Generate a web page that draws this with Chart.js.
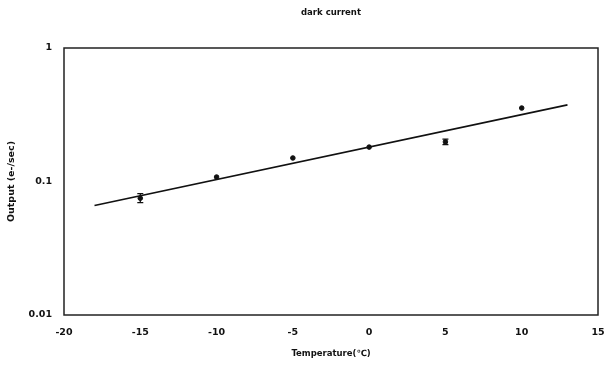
<!DOCTYPE html>
<html>
<head>
<meta charset="utf-8">
<script src="https://cdn.jsdelivr.net/npm/chart.js@4"></script>
<style>
  html, body { margin: 0; padding: 0; background: #fff; }
  #wrap { width: 612px; height: 367px; }
</style>
</head>
<body>
<div id="wrap"><canvas id="chart"></canvas></div>
<script>
// measured temperatures and dark current output
const temps = [-15, -10, -5, 0, 5, 10];
const output = [0.075, 0.108, 0.15, 0.181, 0.198, 0.355];
// error bars (only two points show visible bars)
const errLow = [0.0695, 0.108, 0.15, 0.181, 0.189, 0.355];
const errHigh = [0.081, 0.108, 0.15, 0.181, 0.208, 0.355];
// trend line endpoints
const trendX = [-18, 13];
const trendY = [0.066, 0.375];
const yTicks = [0.01, 0.1, 1];
const chartTitle = 'dark current';

const tickFont = { family: 'DejaVu Sans', size: 9.5, weight: '600' };
const labelFont = { family: 'DejaVu Sans', size: 8.5, weight: '600' };

// frame round the plot area, error bars and the title
const extras = {
  id: 'extras',
  afterDatasetsDraw(chart) {
    const ctx = chart.ctx;
    const xs = chart.scales.x, ys = chart.scales.y;
    ctx.save();
    ctx.strokeStyle = '#111';
    ctx.lineWidth = 1.3;
    temps.forEach((t, i) => {
      if (errLow[i] === errHigh[i]) return;
      const x = xs.getPixelForValue(t);
      const y1 = ys.getPixelForValue(errLow[i]);
      const y2 = ys.getPixelForValue(errHigh[i]);
      ctx.beginPath();
      ctx.moveTo(x, y1); ctx.lineTo(x, y2);
      ctx.moveTo(x - 3, y1); ctx.lineTo(x + 3, y1);
      ctx.moveTo(x - 3, y2); ctx.lineTo(x + 3, y2);
      ctx.stroke();
    });
    const a = chart.chartArea;
    ctx.lineWidth = 1.5;
    ctx.strokeStyle = '#222';
    ctx.strokeRect(a.left, a.top, a.right - a.left, a.bottom - a.top);

    ctx.fillStyle = '#111';
    ctx.font = '600 8.5px "DejaVu Sans"';
    ctx.textAlign = 'center';
    ctx.textBaseline = 'middle';
    ctx.fillText(chartTitle, (a.left + a.right) / 2, 13);
    ctx.restore();
  }
};

const ctx = document.getElementById('chart').getContext('2d');
new Chart(ctx, {
  data: {
    datasets: [
      {
        type: 'line',
        data: trendX.map((x, i) => ({ x: x, y: trendY[i] })),
        borderColor: '#111',
        borderWidth: 1.6,
        pointRadius: 0,
        fill: false
      },
      {
        type: 'scatter',
        data: temps.map((t, i) => ({ x: t, y: output[i] })),
        backgroundColor: '#111',
        borderColor: '#111',
        pointRadius: 2.3
      }
    ]
  },
  options: {
    responsive: true,
    maintainAspectRatio: false,
    animation: false,
    layout: { padding: { left: 0, right: 14, top: 48, bottom: 0 } },
    plugins: {
      legend: { display: false },
      tooltip: { enabled: false },
      title: { display: false }
    },
    scales: {
      x: {
        type: 'linear',
        min: -20,
        max: 15,
        ticks: { stepSize: 5, color: '#111', font: tickFont, padding: 12, maxRotation: 0 },
        grid: { drawOnChartArea: false, drawTicks: false },
        border: { display: false },
        title: { display: true, text: 'Temperature(℃)', color: '#111', font: labelFont, padding: { top: 8, bottom: 8 } },
        afterFit(scale) {
          scale.height = 52;
          scale.paddingLeft = 0;
          scale.paddingRight = 0;
        }
      },
      y: {
        type: 'logarithmic',
        min: 0.01,
        max: 1,
        afterBuildTicks(scale) { scale.ticks = yTicks.map(v => ({ value: v })); },
        ticks: { color: '#111', font: tickFont, padding: 12, callback: v => String(v) },
        grid: { drawOnChartArea: false, drawTicks: false },
        border: { display: false },
        title: { display: true, text: 'Output (e-/sec)', color: '#111', font: { family: 'DejaVu Sans', size: 9.5, weight: '600' }, padding: { top: 6, bottom: 6 } },
        afterFit(scale) { scale.width = 64; }
      }
    }
  },
  plugins: [extras]
});
</script>
</body>
</html>
